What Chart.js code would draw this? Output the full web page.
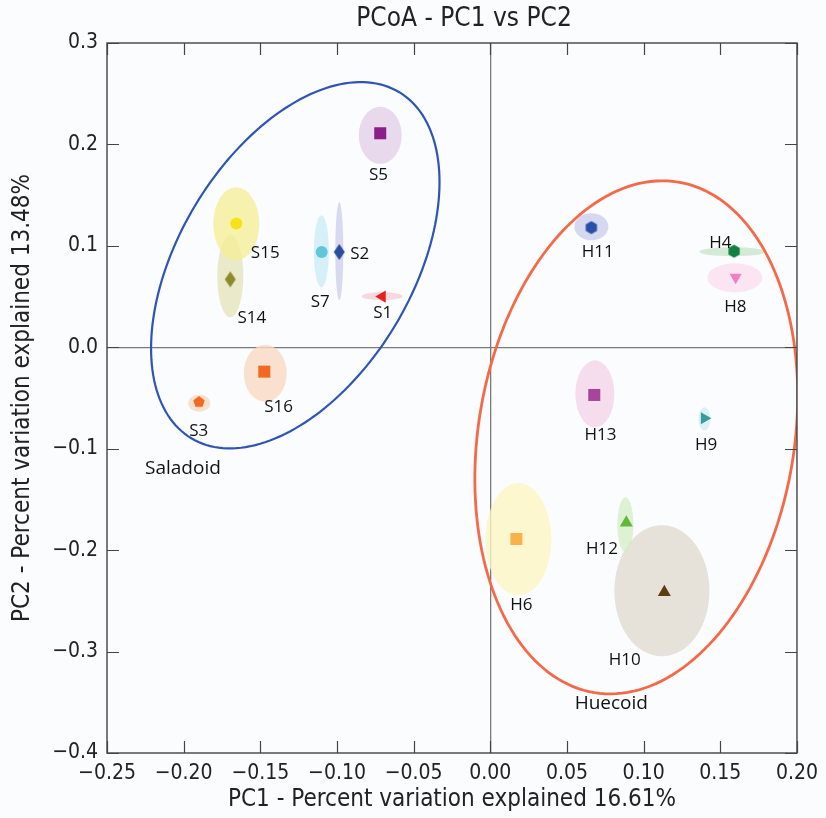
<!DOCTYPE html>
<html>
<head>
<meta charset="utf-8">
<script src="https://cdn.jsdelivr.net/npm/chart.js@4.4.1/dist/chart.umd.min.js"></script>
<style>
html, body { margin: 0; background: #fbfcfe; }
canvas { display: block; }
</style>
</head>
<body>
<canvas id="chart" width="826" height="818"></canvas>
<script>
// samples and their PCoA coordinates
const samples = ["S1", "S2", "S3", "S5", "S7", "S14", "S15", "S16", "H4", "H6", "H8", "H9", "H10", "H11", "H12", "H13"];
const pc1 = [-0.0705, -0.0985, -0.190, -0.0718, -0.110, -0.1696, -0.1657, -0.1474, 0.159, 0.017, 0.160, 0.1396, 0.1135, 0.0659, 0.0887, 0.0678];
const pc2 = [0.050, 0.094, -0.054, 0.211, 0.094, 0.067, 0.122, -0.024, 0.0947, -0.189, 0.069, -0.070, -0.2416, 0.118, -0.173, -0.047];

// spread ellipse of each sample (center + semi axes, data units)
const ellX = [-0.0705, -0.0985, -0.1898, -0.0718, -0.1102, -0.1696, -0.1657, -0.1468, 0.1579, 0.0183, 0.1595, 0.1396, 0.1119, 0.0659, 0.0881, 0.0682];
const ellY = [0.0503, 0.0947, -0.0552, 0.209, 0.0947, 0.070, 0.1218, -0.0256, 0.0942, -0.1893, 0.0685, -0.0705, -0.2401, 0.1188, -0.175, -0.0459];
const spreadX = [0.0134, 0.0026, 0.0072, 0.0140, 0.0049, 0.0085, 0.0150, 0.0140, 0.0215, 0.0215, 0.0179, 0.0039, 0.0310, 0.0111, 0.0052, 0.0127];
const spreadY = [0.0039, 0.0483, 0.0084, 0.0281, 0.0355, 0.0404, 0.0360, 0.0281, 0.0044, 0.0552, 0.0143, 0.0113, 0.0646, 0.0133, 0.0271, 0.0330];

// where the sample names sit
const labelX = [-0.0702, -0.0852, -0.1902, -0.0729, -0.1109, -0.1555, -0.1468, -0.1381, 0.1500, 0.0202, 0.1598, 0.1407, 0.0876, 0.0700, 0.0728, 0.0718];
const labelY = [0.0332, 0.0917, -0.0825, 0.1696, 0.0447, 0.0283, 0.0924, -0.0589, 0.1026, -0.2544, 0.0397, -0.0966, -0.3087, 0.0940, -0.1995, -0.0868];

// group ellipses: center and two conjugate semi axes (data units)
const groups = ["Saladoid", "Huecoid"];
const groupX = [-0.1272, 0.0952];
const groupY = [0.0809, -0.0888];
const groupAxisA = [[0.0678, 0.1706], [0.02727, 0.2517]];
const groupAxisB = [[0.0652, -0.0592], [0.1017, -0.02515]];
const groupLabelX = [-0.2005, 0.0789];
const groupLabelY = [-0.1196, -0.3508];

const xTicks = [-0.25, 0.20, 0.05];
const yTicks = [-0.4, 0.3, 0.1];

// styles
const markerColors = ["#e8201c", "#2c4c9c", "#f26a21", "#8a1f8a", "#62c6d8", "#8c8a2a", "#f7e21a", "#f26a21",
                      "#118040", "#f9b24a", "#f27fbf", "#3b9b9b", "#5c3c12", "#2b4fa6", "#62b83a", "#a7449b"];
const ellipseColors = ["rgba(248,200,210,0.7)", "rgba(205,205,235,0.75)", "rgba(250,215,190,0.75)", "rgba(228,208,232,0.8)",
                       "rgba(205,236,245,0.8)", "rgba(228,228,185,0.75)", "rgba(244,238,145,0.75)", "rgba(250,218,195,0.8)",
                       "rgba(200,230,202,0.8)", "rgba(252,245,195,0.8)", "rgba(251,222,240,0.8)", "rgba(212,238,242,0.8)",
                       "rgba(226,220,210,0.85)", "rgba(205,206,236,0.8)", "rgba(214,238,200,0.8)", "rgba(245,212,234,0.8)"];
const groupColors = ["#2d55b5", "#f46a48"];

function shape(kind, color) { // small canvas markers for shapes chart.js lacks
  const c = document.createElement("canvas");
  c.width = 16; c.height = 18;
  const g = c.getContext("2d");
  g.fillStyle = color;
  g.beginPath();
  if (kind === "diamond") {
    g.moveTo(8, 1); g.lineTo(13.5, 9); g.lineTo(8, 17); g.lineTo(2.5, 9);
  } else {
    const n = kind === "pentagon" ? 5 : 6;
    const r = kind === "pentagon" ? 6 : 6.5;
    for (let k = 0; k < n; k++) {
      const a = -Math.PI / 2 + k * 2 * Math.PI / n;
      const px = 8 + r * Math.cos(a), py = 9 + r * Math.sin(a);
      k ? g.lineTo(px, py) : g.moveTo(px, py);
    }
  }
  g.closePath();
  g.fill();
  return c;
}

const styles = ["triangle", shape("diamond", markerColors[1]), shape("pentagon", markerColors[2]), "rect", "circle",
                shape("diamond", markerColors[5]), "circle", "rect", shape("hexagon", markerColors[8]), "rect",
                "triangle", "triangle", "triangle", shape("hexagon", markerColors[13]), "triangle", "rect"];
const rotations = [270, 0, 0, 0, 0, 0, 0, 0, 0, 0, 180, 90, 0, 0, 0, 0];
const radii = [7, 7, 7, 8.5, 6, 7, 6, 8.5, 7, 8.5, 7, 7, 7.5, 7, 7.5, 8.5];

const fmt = (v, d) => {
  const s = Math.abs(v).toFixed(d);
  return (v < -1e-9 ? "\u2212" : "") + s;
};

const ellipsePlugin = {
  id: "ellipses",
  beforeDatasetsDraw(chart) {
    const { ctx, chartArea: a } = chart;
    const x = chart.scales.x, y = chart.scales.y;
    ctx.save();
    ctx.beginPath();
    ctx.rect(a.left, a.top, a.right - a.left, a.bottom - a.top);
    ctx.clip();
    samples.forEach((s, i) => {
      const cx = x.getPixelForValue(ellX[i]), cy = y.getPixelForValue(ellY[i]);
      const rx = Math.abs(x.getPixelForValue(ellX[i] + spreadX[i]) - cx);
      const ry = Math.abs(y.getPixelForValue(ellY[i] + spreadY[i]) - cy);
      ctx.fillStyle = ellipseColors[i];
      ctx.beginPath();
      ctx.ellipse(cx, cy, rx, ry, 0, 0, Math.PI * 2);
      ctx.fill();
    });
    groups.forEach((gname, j) => {
      ctx.strokeStyle = groupColors[j];
      ctx.lineWidth = j ? 2.8 : 2.2;
      ctx.beginPath();
      for (let t = 0; t <= 360; t += 2) {
        const r = t * Math.PI / 180;
        const vx = groupX[j] + groupAxisA[j][0] * Math.cos(r) + groupAxisB[j][0] * Math.sin(r);
        const vy = groupY[j] + groupAxisA[j][1] * Math.cos(r) + groupAxisB[j][1] * Math.sin(r);
        const px = x.getPixelForValue(vx), py = y.getPixelForValue(vy);
        t ? ctx.lineTo(px, py) : ctx.moveTo(px, py);
      }
      ctx.closePath();
      ctx.stroke();
    });
    ctx.restore();
  },
  afterDatasetsDraw(chart) {
    const { ctx } = chart;
    const x = chart.scales.x, y = chart.scales.y;
    ctx.save();
    ctx.fillStyle = "#111";
    ctx.textAlign = "center";
    ctx.textBaseline = "middle";
    ctx.font = "17px 'Open Sans'";
    samples.forEach((s, i) => {
      ctx.fillText(s, x.getPixelForValue(labelX[i]), y.getPixelForValue(labelY[i]));
    });
    ctx.font = "19px 'Open Sans'";
    groups.forEach((g, j) => {
      ctx.fillText(g, x.getPixelForValue(groupLabelX[j]), y.getPixelForValue(groupLabelY[j]));
    });
    ctx.restore();
  },
  afterDraw(chart) { // frame, inward ticks and title
    const { ctx, chartArea: a } = chart;
    const x = chart.scales.x, y = chart.scales.y;
    ctx.save();
    ctx.strokeStyle = "#444";
    ctx.lineWidth = 1.4;
    ctx.strokeRect(a.left, a.top, a.right - a.left, a.bottom - a.top);
    ctx.lineWidth = 1.2;
    ctx.beginPath();
    x.ticks.forEach(t => {
      const px = Math.round(x.getPixelForValue(t.value)) + 0.5;
      ctx.moveTo(px, a.bottom); ctx.lineTo(px, a.bottom - 12);
      ctx.moveTo(px, a.top); ctx.lineTo(px, a.top + 12);
    });
    y.ticks.forEach(t => {
      const py = Math.round(y.getPixelForValue(t.value)) + 0.5;
      ctx.moveTo(a.left, py); ctx.lineTo(a.left + 12, py);
      ctx.moveTo(a.right, py); ctx.lineTo(a.right - 12, py);
    });
    ctx.stroke();
    ctx.fillStyle = "#222";
    ctx.font = "26px 'DejaVu Sans Condensed', 'DejaVu Sans'";
    ctx.textAlign = "center";
    ctx.textBaseline = "middle";
    ctx.fillText("PCoA - PC1 vs PC2", (a.left + a.right) / 2 + 12, 19);
    ctx.restore();
  }
};

const zeroLine = ctx => Math.abs(ctx.tick.value) < 1e-9 ? "#7a7a7a" : "rgba(0,0,0,0)";
const tickFont = { family: "'DejaVu Sans Condensed', 'DejaVu Sans'", size: 21 };
const titleFont = { family: "'DejaVu Sans Condensed', 'DejaVu Sans'", size: 24 };

const ctx = document.getElementById("chart").getContext("2d");
const chart = new Chart(ctx, {
  type: "scatter",
  data: {
    datasets: [{
      label: "samples",
      data: samples.map((s, i) => ({ x: pc1[i], y: pc2[i] })),
      pointStyle: styles,
      rotation: rotations,
      pointRadius: radii,
      pointHoverRadius: radii,
      backgroundColor: markerColors,
      borderColor: markerColors,
      borderWidth: 0
    }]
  },
  options: {
    responsive: false,
    animation: false,
    devicePixelRatio: 1,
    layout: { padding: { top: 43, right: 29, left: 0, bottom: 0 } },
    plugins: { legend: { display: false }, tooltip: { enabled: false }, title: { display: false } },
    scales: {
      x: {
        type: "linear", min: xTicks[0], max: xTicks[1],
        ticks: { stepSize: xTicks[2], color: "#222", font: tickFont, padding: 8, maxRotation: 0, callback: v => fmt(v, 2) },
        grid: { color: zeroLine, lineWidth: 1.3, drawTicks: false },
        border: { display: false },
        title: { display: true, text: "PC1 - Percent variation explained 16.61%", color: "#222", font: titleFont, padding: { top: 0, bottom: 4 } },
        afterFit: s => { s.height = 65; }
      },
      y: {
        type: "linear", min: yTicks[0], max: yTicks[1],
        ticks: { stepSize: yTicks[2], color: "#222", font: tickFont, padding: 9, callback: v => fmt(v, 1) },
        grid: { color: zeroLine, lineWidth: 1.3, drawTicks: false },
        border: { display: false },
        title: { display: true, text: "PC2 - Percent variation explained 13.48%", color: "#222", font: titleFont, padding: { top: 8, bottom: 0 } },
        afterFit: s => { s.width = 107; }
      }
    }
  },
  plugins: [ellipsePlugin]
});
</script>
</body>
</html>
